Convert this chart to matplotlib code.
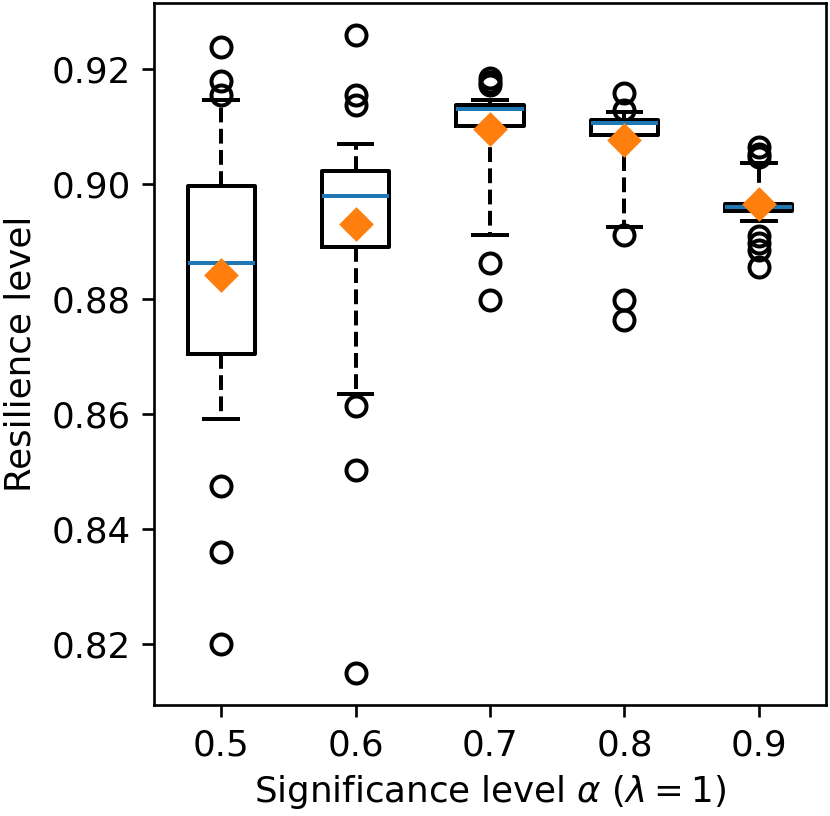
import matplotlib
matplotlib.use("Agg")
import matplotlib.pyplot as plt

alphas = ["0.5", "0.6", "0.7", "0.8", "0.9"]

# box statistics
q1s = [0.8704, 0.8890, 0.9101, 0.9085, 0.8953]
meds = [0.8862, 0.8980, 0.9130, 0.9107, 0.8960]
q3s = [0.8997, 0.9023, 0.9137, 0.9111, 0.8966]
means = [0.8842, 0.8930, 0.9095, 0.9077, 0.8965]
whislos = [0.8592, 0.8634, 0.8911, 0.8926, 0.8936]
whishis = [0.9146, 0.9069, 0.9146, 0.9126, 0.9036]
fliers = [
    [0.9239, 0.9180, 0.9155, 0.8474, 0.8359, 0.8200],
    [0.9260, 0.9155, 0.9137, 0.8614, 0.8503, 0.8150],
    [0.9184, 0.9178, 0.9172, 0.8862, 0.8798],
    [0.9159, 0.9128, 0.8911, 0.8798, 0.8764],
    [0.9064, 0.9053, 0.9047, 0.8910, 0.8898, 0.8886, 0.8856],
]

stats = []
for i in range(len(alphas)):
    stats.append(dict(med=meds[i], q1=q1s[i], q3=q3s[i], mean=means[i],
                      whislo=whislos[i], whishi=whishis[i], fliers=fliers[i]))

plt.rcParams['font.size'] = 10.7

fig = plt.figure(figsize=(830 / 240, 816 / 240), dpi=240)
ax = fig.add_axes([154 / 830, 1 - 705.3 / 816, 672 / 830, 702.3 / 816])

lw = 1.2
ax.bxp(stats, showmeans=True,
       boxprops=dict(linewidth=lw),
       capprops=dict(linewidth=lw),
       medianprops=dict(color="C0", linewidth=lw),
       whiskerprops=dict(linestyle="--", linewidth=lw),
       meanprops=dict(marker="D", markerfacecolor="C1", markeredgecolor="C1",
                      markersize=6.5),
       flierprops=dict(marker="o", markerfacecolor="none", markeredgecolor="k",
                       markersize=6, markeredgewidth=lw))

ax.set_xticks(range(1, len(alphas) + 1))
ax.set_xticklabels(alphas)
ax.set_xlim(0.5, 5.5)
ax.set_ylim(0.8093, 0.9315)
ax.set_yticks([0.82, 0.84, 0.86, 0.88, 0.90, 0.92])
ax.set_ylabel("Resilience level")
ax.set_xlabel(r"Significance level $\alpha$ ($\lambda=1$)", labelpad=3)

fig.savefig("out.png", dpi=240)
